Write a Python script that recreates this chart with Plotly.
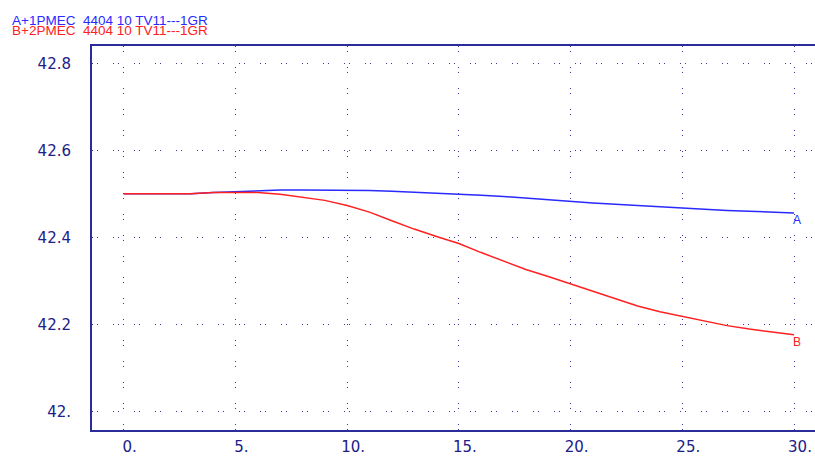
import plotly.graph_objects as go

x_vals = list(range(0, 31))
series_a = [42.500, 42.500, 42.500, 42.500, 42.503, 42.505, 42.506, 42.509, 42.509, 42.509,
            42.509, 42.508, 42.506, 42.504, 42.502, 42.500, 42.497, 42.494, 42.490, 42.486,
            42.482, 42.479, 42.476, 42.473, 42.470, 42.467, 42.465, 42.462, 42.460, 42.458,
            42.456]
series_b = [42.500, 42.500, 42.500, 42.500, 42.503, 42.503, 42.503, 42.499, 42.492, 42.485,
            42.473, 42.458, 42.438, 42.419, 42.402, 42.386, 42.365, 42.345, 42.326, 42.310,
            42.293, 42.275, 42.258, 42.242, 42.229, 42.218, 42.207, 42.197, 42.189, 42.182,
            42.176]
x_ticks = [0, 5, 10, 15, 20, 25, 30]
x_tick_labels = ["0.", "5.", "10.", "15.", "20.", "25.", "30."]
y_ticks = [42.0, 42.2, 42.4, 42.6, 42.8]
y_tick_labels = ["42.", "42.2", "42.4", "42.6", "42.8"]
legend_a = "A+1PMEC\u00a0\u00a04404 10 TV11---1GR"
legend_b = "B+2PMEC\u00a0\u00a04404 10 TV11---1GR"

BLUE = "#2a2aff"
RED = "#ff2020"
NAVY = "#2b2b99"
GRID = "#3a3a9c"

fig = go.Figure()
fig.add_trace(go.Scatter(x=x_vals, y=series_a, mode="lines",
                         line=dict(color=BLUE, width=1.5), showlegend=False, hoverinfo="skip"))
fig.add_trace(go.Scatter(x=x_vals, y=series_b, mode="lines",
                         line=dict(color=RED, width=1.5), showlegend=False, hoverinfo="skip"))

fig.add_annotation(x=x_vals[-1], y=series_a[-1], text="A", showarrow=False,
                   xanchor="center", yanchor="middle", xshift=3, yshift=-7,
                   font=dict(family="Liberation Sans", size=12, color=BLUE))
fig.add_annotation(x=x_vals[-1], y=series_b[-1], text="B", showarrow=False,
                   xanchor="center", yanchor="middle", xshift=3, yshift=-7,
                   font=dict(family="Liberation Sans", size=12, color=RED))

fig.add_annotation(xref="paper", yref="paper", x=-82/723, y=1 + 25.5/390, text=legend_a,
                   showarrow=False, xanchor="left", yanchor="middle",
                   font=dict(family="Liberation Sans", size=13.5, color=BLUE))
fig.add_annotation(xref="paper", yref="paper", x=-82/723, y=1 + 15.5/390, text=legend_b,
                   showarrow=False, xanchor="left", yanchor="middle",
                   font=dict(family="Liberation Sans", size=13.5, color=RED))

fig.update_xaxes(range=[-1.42, 30.94], tickvals=x_ticks, ticktext=x_tick_labels,
                 showline=True, linecolor=NAVY, linewidth=2, mirror=True,
                 showgrid=True, gridcolor=GRID, gridwidth=1, griddash="1px,4px,1px,15px",
                 zeroline=False, ticks="", ticklabelshift=6, ticklabelstandoff=2,
                 tickfont=dict(family="DejaVu Sans", size=15, color="#202088"))
fig.update_yaxes(range=[41.957, 42.840], tickvals=y_ticks, ticktext=y_tick_labels,
                 showline=True, linecolor=NAVY, linewidth=2, mirror=False,
                 showgrid=True, gridcolor=GRID, gridwidth=1, griddash="1px,4px,1px,15px",
                 zeroline=False, ticks="", ticklabelstandoff=16,
                 tickfont=dict(family="DejaVu Sans", size=15, color="#202088"))

fig.update_layout(width=815, height=456, margin=dict(l=92, r=0, t=46, b=20),
                  paper_bgcolor="white", plot_bgcolor="white")

fig.write_html("out.html", config={"displayModeBar": False},
               post_script="document.body.style.margin='0';document.body.style.overflow='hidden';")
